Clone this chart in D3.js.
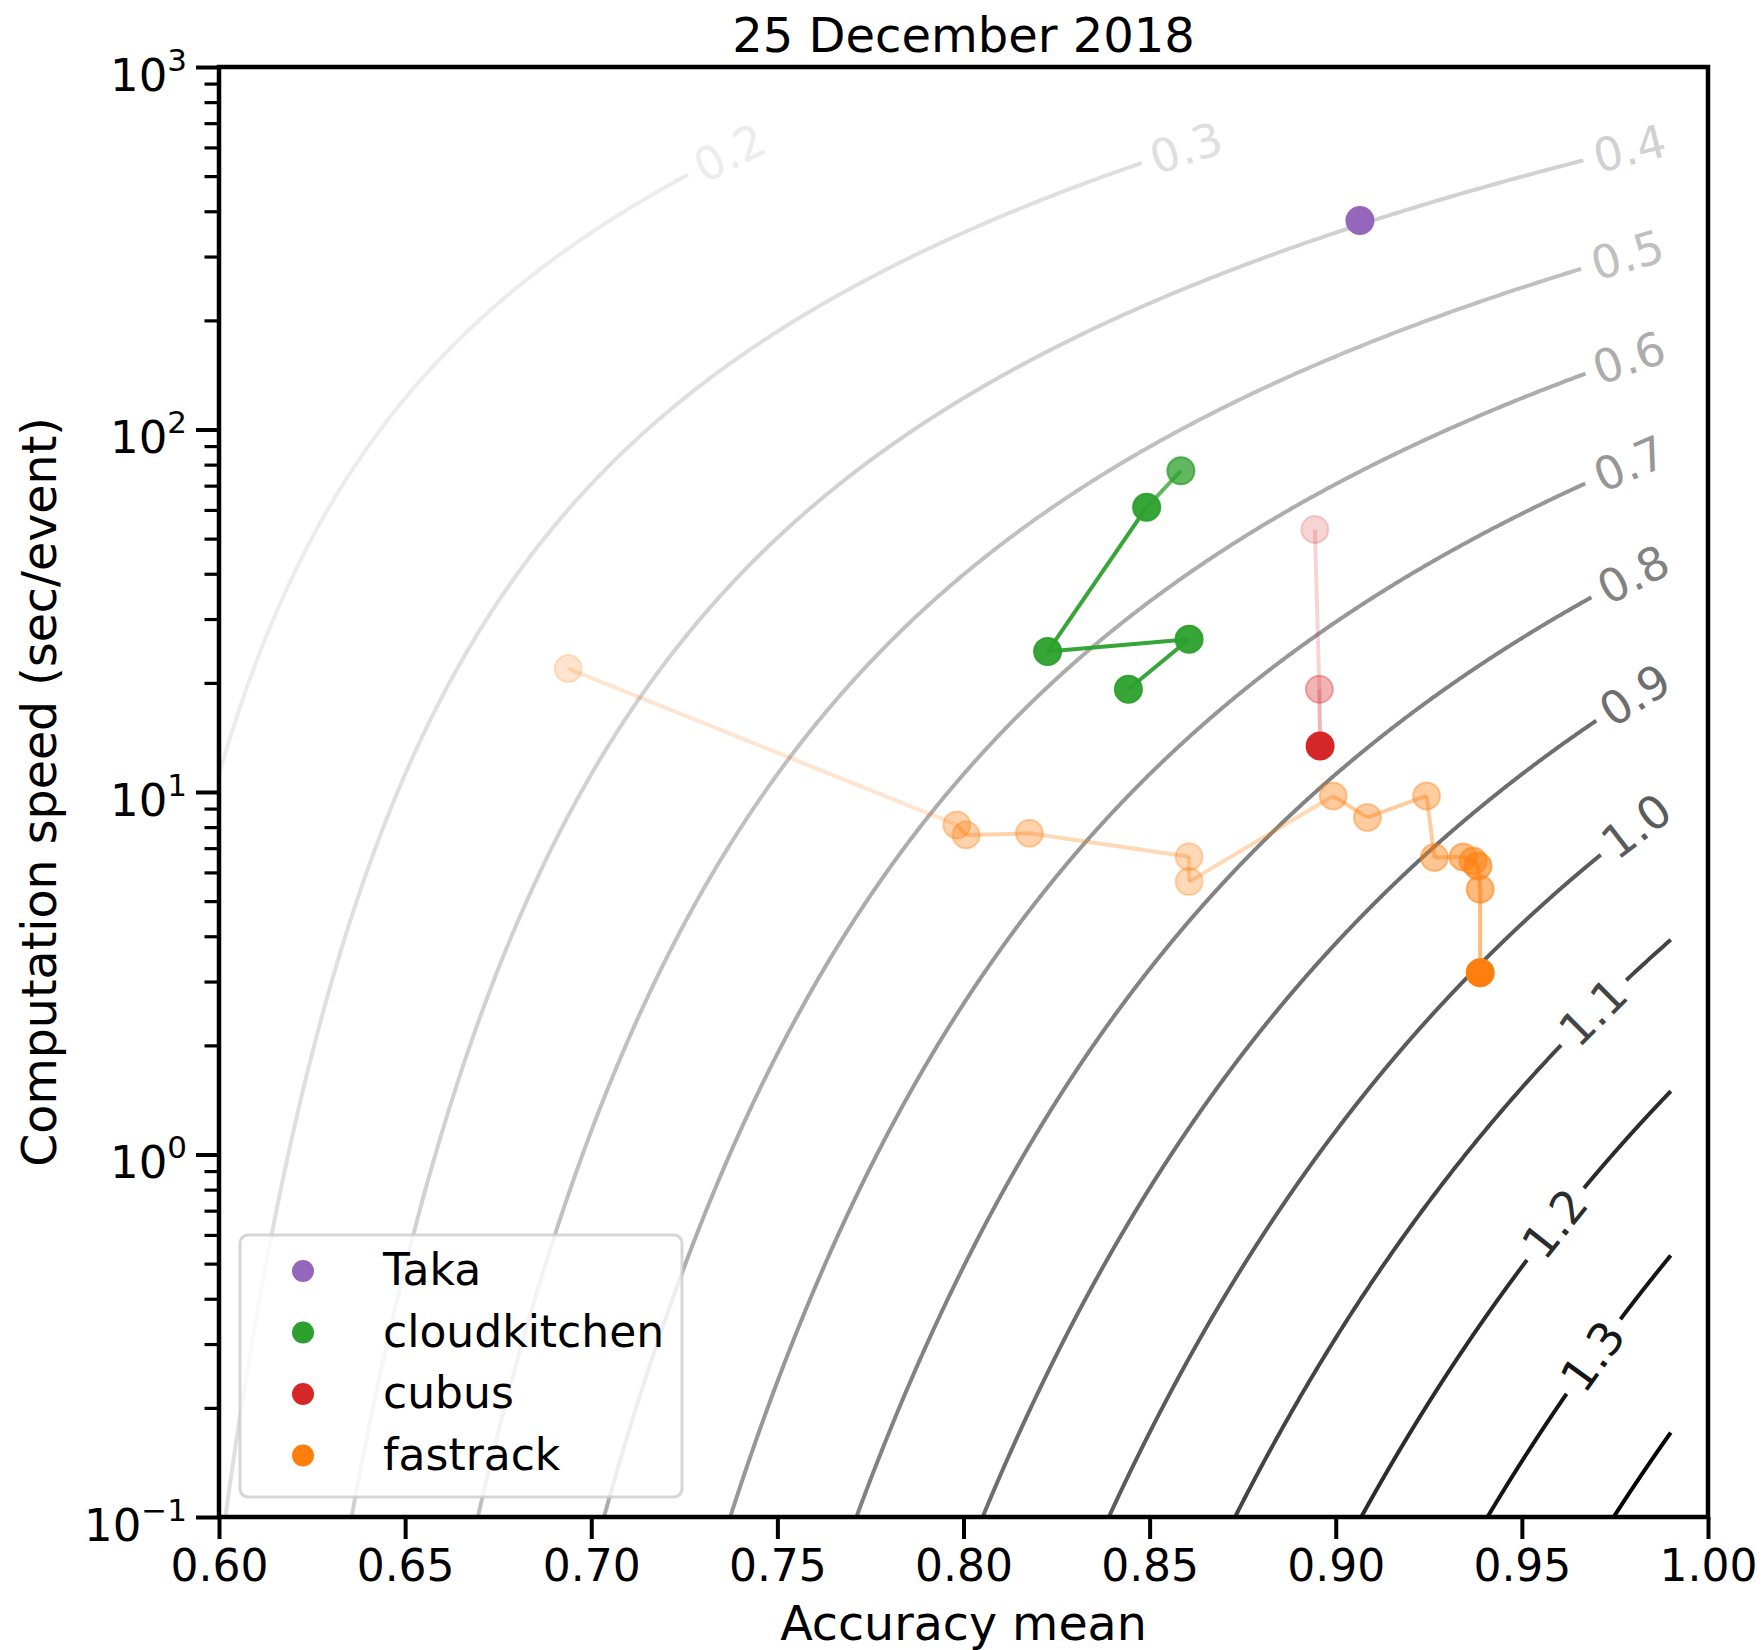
<!DOCTYPE html>
<html>
<head>
<meta charset="utf-8">
<script src="https://cdn.jsdelivr.net/npm/d3@7"></script>
<style>
  body { margin: 0; background: #fff; }
  text { font-family: "DejaVu Sans", sans-serif; }
</style>
</head>
<body>
<svg id="chart" width="1762" height="1650"></svg>
<script>
// ---- data ----
const chartTitle = "25 December 2018";
const xLabel = "Accuracy mean";
const yLabel = "Computation speed (sec/event)";

const teams = ["Taka", "cloudkitchen", "cubus", "fastrack"];
const teamColors = ["#9467bd", "#2ca02c", "#d62728", "#ff7f0e"];

// submissions in order; opacity fades with the age of a submission
const takaAccuracy = [0.9065];
const takaSpeed = [377];
const takaAlpha = [1.0];

const cloudkitchenAccuracy = [0.8584, 0.8492, 0.8226, 0.8606, 0.8443];
const cloudkitchenSpeed = [76.9, 61.0, 24.4, 26.4, 19.2];
const cloudkitchenAlpha = [0.75, 0.95, 0.95, 0.95, 0.95];

const cubusAccuracy = [0.8944, 0.8956, 0.8958];
const cubusSpeed = [53.0, 19.2, 13.4];
const cubusAlpha = [0.2, 0.35, 1.0];

const fastrackAccuracy = [0.6938, 0.7982, 0.8007, 0.8177, 0.8606, 0.8606, 0.8993, 0.9085,
                          0.9244, 0.9265, 0.9342, 0.9369, 0.9382, 0.9388, 0.9388];
const fastrackSpeed = [21.9, 8.11, 7.61, 7.69, 6.63, 5.66, 9.75, 8.51,
                       9.75, 6.60, 6.62, 6.45, 6.25, 5.39, 3.17];
const fastrackAlpha = [0.2, 0.35, 0.35, 0.35, 0.3, 0.3, 0.4, 0.4,
                       0.4, 0.45, 0.5, 0.55, 0.6, 0.55, 1.0];

// iso-score levels; labelled either at the end of the curve ("end") or at a given accuracy
const scoreLevels = [0.2, 0.3, 0.4, 0.5, 0.6, 0.7, 0.8, 0.9, 1.0, 1.1, 1.2, 1.3, 1.4];
const levelLabelAt = ["end", "end", "end", "end", "end", "end", "end", "end", "end", 0.9692, 0.9589, 0.9691, null];

const xTicks = [0.60, 0.65, 0.70, 0.75, 0.80, 0.85, 0.90, 0.95, 1.00];
const yTicks = [0.1, 1, 10, 100, 1000];

// ---- layout ----
const plot = { left: 219, right: 1708, top: 67, bottom: 1517 };
const svg = d3.select("#chart");

const x = d3.scaleLinear().domain([0.6, 1.0]).range([plot.left, plot.right]);
const y = d3.scaleLog().domain([0.1, 1000]).range([plot.bottom, plot.top]);

svg.append("defs").append("clipPath").attr("id", "plotClip")
  .append("rect")
  .attr("x", plot.left).attr("y", plot.top)
  .attr("width", plot.right - plot.left).attr("height", plot.bottom - plot.top);

// ---- score model: score = (accuracy - 0.5) * sqrt(ln(1 + 600 / t)) ----
const refTime = 600;
const gridAccMax = 0.99, gridTimeMax = 650, gridTimeMin = 0.05;
const timeForScore = (s, acc) => refTime / (Math.exp((s / (acc - 0.5)) ** 2) - 1);
const accForScore = (s, t) => 0.5 + s / Math.sqrt(Math.log(1 + refTime / t));
const greyScale = s => d3.interpolateGreys(s / 1.4);

const contourG = svg.append("g").attr("clip-path", "url(#plotClip)");
const contourLabelG = svg.append("g");
const linePx = d3.line();

scoreLevels.forEach((s, i) => {
  const color = greyScale(s);
  const tEnd = Math.min(gridTimeMax, timeForScore(s, gridAccMax));
  const lo = Math.log10(gridTimeMin), hi = Math.log10(tEnd);
  const n = 900;
  const pts = d3.range(n + 1).map(k => {
    const t = Math.pow(10, lo + (hi - lo) * k / n);
    return [x(accForScore(s, t)), y(t)];
  });

  let segments = [pts];
  const where = levelLabelAt[i];
  if (where !== null) {
    const label = contourLabelG.append("text")
      .attr("fill", color).attr("font-size", 46)
      .attr("text-anchor", "middle").attr("dominant-baseline", "central")
      .text(s.toFixed(1));
    const w = label.node().getComputedTextLength();
    const gap = w / 2 + 9;

    // find label centre
    let ci;
    if (where === "end") {
      let acc = 0;
      ci = pts.length - 1;
      for (let k = pts.length - 1; k > 0; k--) {
        acc += Math.hypot(pts[k][0] - pts[k - 1][0], pts[k][1] - pts[k - 1][1]);
        if (acc >= w / 2 + 5) { ci = k - 1; break; }
      }
    } else {
      const cx = x(where), cy = y(timeForScore(s, where));
      ci = d3.minIndex(pts, p => Math.hypot(p[0] - cx, p[1] - cy));
    }
    const c = pts[ci];
    const a = pts[Math.max(0, ci - 6)], b = pts[Math.min(pts.length - 1, ci + 6)];
    let ang = Math.atan2(b[1] - a[1], b[0] - a[0]) * 180 / Math.PI;
    if (ang > 90) ang -= 180;
    if (ang < -90) ang += 180;
    label.attr("transform", `translate(${c[0]},${c[1]}) rotate(${ang})`);

    // break the curve around the label
    segments = [];
    let cur = [];
    pts.forEach(p => {
      if (Math.hypot(p[0] - c[0], p[1] - c[1]) < gap) {
        if (cur.length > 1) segments.push(cur);
        cur = [];
      } else cur.push(p);
    });
    if (cur.length > 1) segments.push(cur);
  }
  segments.forEach(seg => {
    contourG.append("path").attr("d", linePx(seg))
      .attr("fill", "none").attr("stroke", color).attr("stroke-width", 4);
  });
});

// ---- submissions ----
const teamData = [
  { acc: takaAccuracy, speed: takaSpeed, alpha: takaAlpha },
  { acc: cloudkitchenAccuracy, speed: cloudkitchenSpeed, alpha: cloudkitchenAlpha },
  { acc: cubusAccuracy, speed: cubusSpeed, alpha: cubusAlpha },
  { acc: fastrackAccuracy, speed: fastrackSpeed, alpha: fastrackAlpha }
];

const dataG = svg.append("g").attr("clip-path", "url(#plotClip)");
const trail = d3.line().x(d => x(d.acc)).y(d => y(d.speed));

teamData.forEach((td, ti) => {
  const color = teamColors[ti];
  const rows = td.acc.map((a, k) => ({ acc: a, speed: td.speed[k], alpha: td.alpha[k] }));
  for (let k = 1; k < rows.length; k++) {
    dataG.append("path").attr("d", trail([rows[k - 1], rows[k]]))
      .attr("fill", "none").attr("stroke", color).attr("stroke-width", 4)
      .attr("stroke-opacity", Math.min(rows[k - 1].alpha, rows[k].alpha));
  }
  dataG.selectAll(null).data(rows).join("circle")
    .attr("cx", d => x(d.acc)).attr("cy", d => y(d.speed)).attr("r", 13.5)
    .attr("fill", color).attr("fill-opacity", d => d.alpha)
    .attr("stroke", color).attr("stroke-opacity", d => d.alpha).attr("stroke-width", 2);
});

// ---- axes ----
const xAxisG = svg.append("g").attr("transform", `translate(0,${plot.bottom})`)
  .call(d3.axisBottom(x).tickValues(xTicks).tickFormat(d3.format(".2f")).tickSize(22).tickPadding(11));
xAxisG.select(".domain").remove();
xAxisG.selectAll(".tick line").attr("stroke", "#000").attr("stroke-width", 4);
xAxisG.selectAll(".tick text").attr("font-size", 44).attr("font-family", "DejaVu Sans").attr("fill", "#000");

const minorTicks = [];
for (let e = -1; e < 3; e++) for (let m = 2; m <= 9; m++) minorTicks.push(m * Math.pow(10, e));

const yMinorG = svg.append("g").attr("transform", `translate(${plot.left},0)`)
  .call(d3.axisLeft(y).tickValues(minorTicks).tickFormat("").tickSize(14.5));
yMinorG.select(".domain").remove();
yMinorG.selectAll(".tick line").attr("stroke", "#000").attr("stroke-width", 3.2);

const yAxisG = svg.append("g").attr("transform", `translate(${plot.left},0)`)
  .call(d3.axisLeft(y).tickValues(yTicks).tickSize(23));
yAxisG.select(".domain").remove();
yAxisG.selectAll(".tick line").attr("stroke", "#000").attr("stroke-width", 4);
yAxisG.selectAll(".tick text").each(function (d) {
  const e = Math.round(Math.log10(d));
  const t = d3.select(this).text(null)
    .attr("x", -32).attr("y", 23).attr("dy", null)
    .attr("font-size", 45).attr("font-family", "DejaVu Sans").attr("fill", "#000")
    .attr("text-anchor", "end");
  t.append("tspan").text("10");
  t.append("tspan").attr("dy", -20).attr("font-size", 31).text(e < 0 ? "\u2212" + (-e) : String(e));
});

// frame
svg.append("rect")
  .attr("x", plot.left).attr("y", plot.top)
  .attr("width", plot.right - plot.left).attr("height", plot.bottom - plot.top)
  .attr("fill", "none").attr("stroke", "#000").attr("stroke-width", 4.5);

// ---- titles ----
svg.append("text").attr("x", (plot.left + plot.right) / 2).attr("y", 52)
  .attr("text-anchor", "middle").attr("font-size", 48).attr("fill", "#000").text(chartTitle);
svg.append("text").attr("x", (plot.left + plot.right) / 2).attr("y", 1640)
  .attr("text-anchor", "middle").attr("font-size", 47.5).attr("fill", "#000").text(xLabel);
svg.append("text")
  .attr("transform", `translate(56,${(plot.top + plot.bottom) / 2}) rotate(-90)`)
  .attr("text-anchor", "middle").attr("font-size", 47.5).attr("fill", "#000").text(yLabel);

// ---- legend ----
const legend = svg.append("g");
legend.append("rect").attr("x", 240).attr("y", 1235).attr("width", 442).attr("height", 262).attr("rx", 8)
  .attr("fill", "#fff").attr("fill-opacity", 0.8)
  .attr("stroke", "#cccccc").attr("stroke-opacity", 0.8).attr("stroke-width", 3);
teams.forEach((name, i) => {
  const cy = 1271 + i * 61.5;
  legend.append("circle").attr("cx", 303).attr("cy", cy).attr("r", 11).attr("fill", teamColors[i]);
  legend.append("text").attr("x", 383).attr("y", cy + 14)
    .attr("font-size", 44).attr("fill", "#000").text(name);
});
</script>
</body>
</html>
